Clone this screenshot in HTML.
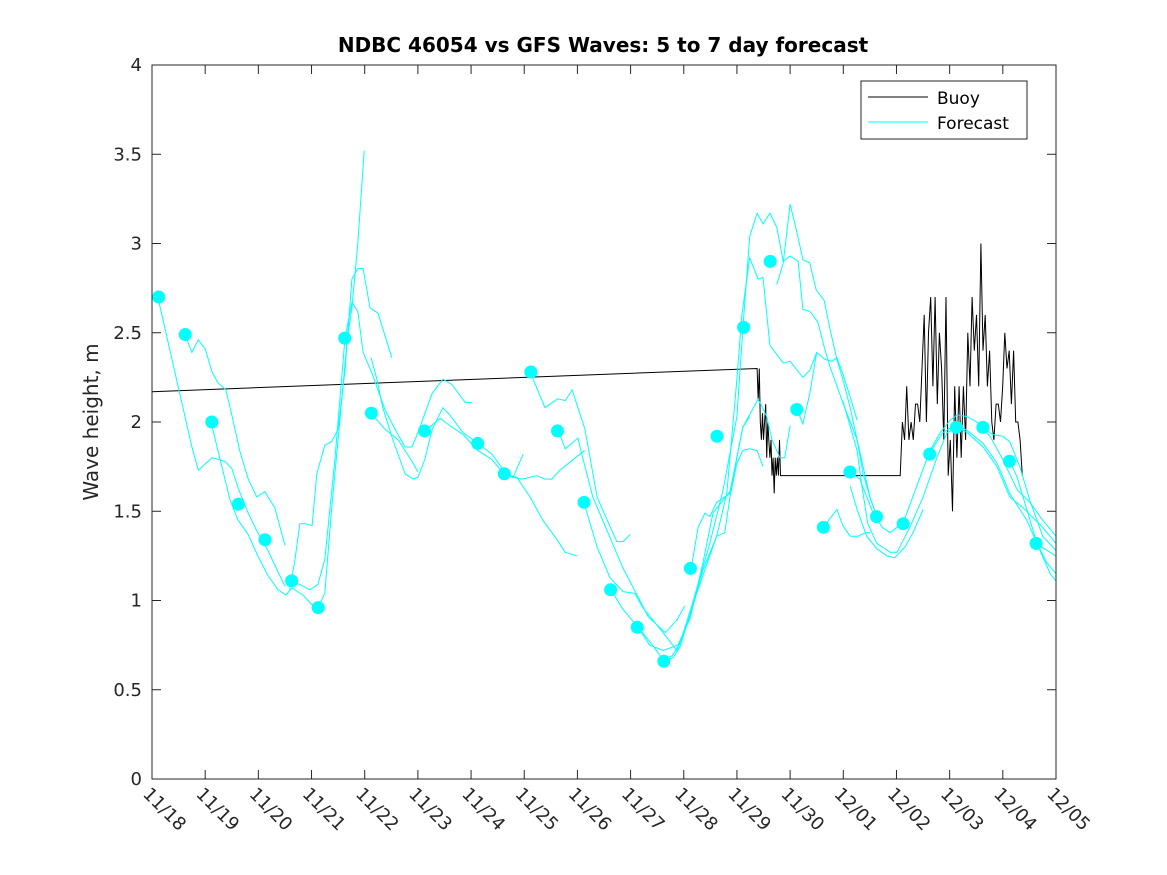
<!DOCTYPE html>
<html><head><meta charset="utf-8"><style>
html,body{margin:0;padding:0;background:#fff;}
svg{display:block;font-family:"DejaVu Sans","Liberation Sans",sans-serif;}
</style></head><body>
<svg id="chart" width="1167" height="875" viewBox="0 0 1167 875">
<rect width="1167" height="875" fill="#fff"/>
<text x="603" y="52" text-anchor="middle" font-size="20" font-weight="bold" fill="#000">NDBC 46054 vs GFS Waves: 5 to 7 day forecast</text>
<text transform="translate(98,422) rotate(-90)" text-anchor="middle" font-size="20" fill="#262626">Wave height, m</text>
<g id="grid"></g>
<g id="series"></g>
<g id="axes"></g>
<g>
<rect x="861" y="81" width="166" height="58" fill="#fff" stroke="#262626" stroke-width="1"/>
<line x1="868" y1="97" x2="928" y2="97" stroke="#000" stroke-width="1"/>
<text x="937" y="104" font-size="17" fill="#000">Buoy</text>
<line x1="868" y1="122" x2="928" y2="122" stroke="#00ffff" stroke-width="1"/>
<text x="937" y="129" font-size="17" fill="#000">Forecast</text>
</g>
</svg>
<script>
const xTickLabels = ["11/18","11/19","11/20","11/21","11/22","11/23","11/24","11/25","11/26","11/27","11/28","11/29","11/30","12/01","12/02","12/03","12/04","12/05"];
const yTicks = [0,0.5,1,1.5,2,2.5,3,3.5,4];
const yTickLabels = ["0","0.5","1","1.5","2","2.5","3","3.5","4"];
const dotStart = 0.125;
const dotStep = 0.5;
const dotValues = [2.70,2.49,2.00,1.54,1.34,1.11,0.96,2.47,2.05,null,1.95,null,1.88,1.71,2.28,1.95,1.55,1.06,0.85,0.66,1.18,1.92,2.53,2.90,2.07,1.41,1.72,1.47,1.43,1.82,1.97,1.97,1.78,1.32];
const buoyDaysA = [0,11.38,11.40,11.42,11.44,11.46,11.48,11.50,11.52,11.54,11.56,11.58,11.60,11.62,11.64,11.66,11.68,11.70,11.72,11.74,11.76,11.78,11.80,11.82,11.84,14.07];
const buoyValsA = [2.17,2.30,2.12,2.30,2.00,1.90,2.05,1.90,2.00,2.10,1.80,2.00,1.90,1.80,1.90,1.70,1.80,1.60,1.80,1.70,1.80,1.70,1.90,1.70,1.70,1.70];
const buoyStartB = 14.07;
const buoyStepB = 0.041;
const buoyValsB = [1.70,2.0,1.9,2.2,1.9,2.0,1.9,2.1,2.1,2.0,2.3,2.6,2.0,2.5,2.7,2.2,2.7,2.1,2.5,2.3,1.9,2.7,1.7,1.9,1.5,2.2,1.8,2.2,1.8,2.2,1.9,2.5,2.2,2.7,2.4,2.6,2.2,3.0,2.4,2.6,2.2,2.4,2.0,1.9,2.1,2.1,2.0,2.2,2.5,2.3,2.4,2.1,2.4,2.0,2.0,1.9,1.7];
const f1d=[0.11,0.75,0.87,1.13,1.37,1.50,1.62,1.81,1.97,2.18,2.37,2.50];
const f1v=[2.70,1.86,1.73,1.80,1.78,1.74,1.63,1.49,1.39,1.28,1.16,1.08];
const f2d=[0.62,0.75,0.87,1.00,1.13,1.24,1.39,1.50,1.65,1.81,1.97,2.12,2.31,2.50];
const f2v=[2.49,2.39,2.46,2.41,2.28,2.22,2.18,2.04,1.84,1.68,1.58,1.61,1.52,1.31];
const f3d=[1.11,1.28,1.47,1.62,1.81,1.99,2.18,2.37,2.52,2.63,2.84,3.03,3.12,3.25,3.38,3.54,3.67,3.76,3.87,3.99];
const f3v=[2.00,1.79,1.56,1.45,1.37,1.25,1.14,1.06,1.03,1.07,1.03,0.97,0.96,1.04,1.52,2.03,2.46,2.64,3.00,3.52];
const f4d=[2.59,2.69,2.78,2.88,3.01,3.10,3.25,3.38,3.50,3.63,3.76,3.87,3.97,4.10,4.25,4.51];
const f4v=[1.06,1.23,1.43,1.43,1.42,1.71,1.87,1.89,1.96,2.29,2.80,2.86,2.86,2.64,2.61,2.36];
const f5d=[2.61,2.78,2.97,3.12,3.25,3.44,3.63,3.76,3.87,3.97,4.14,4.38,4.57,4.76,4.89,5.00,5.27,5.47,5.64,5.89,6.02];
const f5v=[1.11,1.09,1.06,1.09,1.23,1.79,2.47,2.67,2.62,2.39,2.27,2.07,1.96,1.86,1.86,1.94,2.16,2.24,2.21,2.11,2.11];
const f6d=[4.12,4.23,4.34,4.53,4.76,4.91,5.00,5.13,5.27,5.47,5.60,5.85,6.13,6.39,6.64,6.79,6.98];
const f6v=[2.36,2.24,2.08,1.90,1.71,1.68,1.69,1.79,1.96,2.08,2.04,1.94,1.88,1.82,1.72,1.69,1.82];
const f7d=[4.12,4.38,4.63,4.91,5.00];
const f7v=[2.05,1.96,1.90,1.77,1.72];
const f8d=[5.13,5.42,5.60,5.85,6.13,6.39,6.62,6.86,7.11,7.35,7.62,7.77,7.99];
const f8v=[1.95,2.02,1.98,1.93,1.84,1.79,1.71,1.69,1.58,1.45,1.34,1.27,1.25];
const f9d=[6.60,6.77,6.96,7.24,7.39,7.52,7.67,8.09,8.14];
const f9v=[1.73,1.69,1.68,1.70,1.68,1.68,1.73,1.83,1.84];
const f10d=[7.11,7.39,7.63,7.77,7.90,8.01,8.14,8.37,8.56,8.74,8.86,8.99];
const f10v=[2.28,2.08,2.13,2.12,2.18,2.08,1.96,1.58,1.45,1.33,1.33,1.37];
const f11d=[7.63,7.77,8.01,8.10,8.29,8.56,8.86,9.14,9.33,9.65,9.87,10.02];
const f11v=[1.96,1.85,1.91,1.80,1.58,1.39,1.18,1.02,0.91,0.82,0.89,0.97];
const f12d=[8.12,8.37,8.61,8.86,9.08,9.23,9.42,9.61,9.87,10.12,10.36,10.62,10.77,10.87,11.00,11.11,11.24,11.38,11.49];
const f12v=[1.55,1.30,1.13,1.05,1.04,0.96,0.89,0.82,0.72,0.91,1.17,1.36,1.38,1.58,1.77,1.84,1.85,1.84,1.75];
const f13d=[8.63,8.86,9.14,9.36,9.61,9.89,10.12,10.36,10.55,10.87,11.11,11.40,11.56,11.66,11.81,11.90,12.00];
const f13v=[1.06,0.95,0.85,0.75,0.72,0.75,0.90,1.21,1.49,1.61,1.97,2.13,2.03,1.90,1.80,1.80,1.98];
const f14d=[9.14,9.36,9.61,9.78,9.93,10.17,10.49,10.74,11.00,11.11,11.24,11.38,11.49,11.62,11.75,11.87,12.00,12.15,12.24,12.37,12.52,12.64,12.75,12.99,13.26,13.50,13.63];
const f14v=[0.85,0.77,0.67,0.69,0.76,0.99,1.32,1.62,2.03,2.52,3.04,3.17,3.11,3.17,3.09,2.90,2.93,2.90,2.63,2.62,2.56,2.42,2.31,2.11,1.90,1.58,1.47];
const f15d=[9.63,9.80,9.93,10.21,10.44,10.62,10.81,11.00,11.09,11.24,11.40,11.49,11.62,11.87,12.00,12.24,12.37,12.50,12.66,12.79,12.88,12.99,13.13,13.26];
const f15v=[0.66,0.68,0.74,1.01,1.21,1.36,1.60,2.24,2.59,2.92,2.80,2.81,2.43,2.33,2.34,2.25,2.29,2.39,2.35,2.34,2.36,2.27,2.14,2.01];
const f16d=[10.14,10.27,10.40,10.49,10.62,10.87,11.11,11.24];
const f16v=[1.18,1.41,1.49,1.47,1.55,1.60,1.97,2.03];
const f17d=[11.75,11.87,12.00,12.13,12.24,12.37,12.49,12.64,12.75,12.88,12.99,13.13,13.26,13.37,13.50,13.63];
const f17v=[2.77,2.89,3.22,3.06,2.91,2.89,2.74,2.68,2.52,2.35,2.24,2.08,1.90,1.71,1.58,1.47];
const f18d=[12.13,12.24,12.37,12.50];
const f18v=[2.07,1.99,2.16,2.39];
const f19d=[12.62,12.88,12.99,13.13,13.28,13.41,13.50];
const f19v=[1.41,1.51,1.42,1.36,1.36,1.38,1.38];
const f20d=[13.13,13.31,13.56,13.73,13.88,14.01,14.12,14.38,14.63,14.82,15.01,15.14,15.33,15.51,15.76,16.00,16.27,16.51,16.75,17.0];
const f20v=[1.72,1.68,1.49,1.41,1.38,1.41,1.43,1.64,1.84,1.94,2.01,2.04,2.03,2.00,1.92,1.79,1.62,1.55,1.45,1.36];
const f21d=[13.13,13.26,13.44,13.63,13.82,13.97,14.16,14.31,14.50];
const f21v=[1.64,1.51,1.36,1.29,1.25,1.24,1.30,1.38,1.51];
const f22d=[12.99,13.26,13.35,13.46,13.63,13.88,14.01,14.25,14.50,14.76,14.95,15.14,15.33,15.63,15.89,16.13,16.38,16.75,17.0];
const f22v=[2.12,1.84,1.64,1.43,1.32,1.27,1.27,1.41,1.58,1.80,1.94,1.97,1.94,1.86,1.75,1.58,1.52,1.41,1.32];
const f23d=[14.63,14.87,15.14,15.38,15.63,15.89,16.13,16.45,16.64,16.89,17.0];
const f23v=[1.83,1.94,1.99,1.94,1.88,1.77,1.60,1.45,1.32,1.15,1.11];
const f24d=[15.63,15.81,16.00,16.13,16.32,16.51,16.75,17.0];
const f24v=[1.97,1.93,1.92,1.89,1.75,1.56,1.36,1.28];
const f25d=[16.13,16.27,16.45,16.64,16.83,17.0];
const f25v=[1.78,1.69,1.51,1.32,1.21,1.15];
const f26d=[16.62,17.0];
const f26v=[1.32,1.25];
const runs=[[f1d,f1v],[f2d,f2v],[f3d,f3v],[f4d,f4v],[f5d,f5v],[f6d,f6v],[f7d,f7v],[f8d,f8v],[f9d,f9v],[f10d,f10v],[f11d,f11v],[f12d,f12v],[f13d,f13v],[f14d,f14v],[f15d,f15v],[f16d,f16v],[f17d,f17v],[f18d,f18v],[f19d,f19v],[f20d,f20v],[f21d,f21v],[f22d,f22v],[f23d,f23v],[f24d,f24v],[f25d,f25v],[f26d,f26v]];

const L=152,R=1056,T=65,B=779,xMax=17,yMax=4;
const xs=d=>L+(R-L)*d/xMax;
const ys=v=>B-(B-T)*v/yMax;
const NS="http://www.w3.org/2000/svg";
function mk(tag,parent,attrs){const e=document.createElementNS(NS,tag);for(const k in attrs)e.setAttribute(k,attrs[k]);parent.appendChild(e);return e;}
const ser=document.getElementById('series');
const axes=document.getElementById('axes');

let bp=[];
buoyDaysA.forEach((d,i)=>bp.push(xs(d).toFixed(1)+','+ys(buoyValsA[i]).toFixed(1)));
buoyValsB.forEach((v,i)=>bp.push(xs(buoyStartB+i*buoyStepB).toFixed(1)+','+ys(v).toFixed(1)));
const buoy=mk('polyline',ser,{points:bp.join(' '),fill:'none',stroke:'#000','stroke-width':1});



runs.forEach((r,k)=>{
  const pts=r[0].map((d,i)=>xs(d).toFixed(1)+','+ys(r[1][i]).toFixed(1)).join(' ');
  const pl=mk('polyline',ser,{points:pts,fill:'none',stroke:'#00ffff','stroke-width':1});
  
  
});
dotValues.forEach((v,i)=>{
  if(v===null)return;
  const c=mk('circle',ser,{cx:xs(dotStart+i*dotStep),cy:ys(v),r:6.5,fill:'#00ffff'});
  
  
});

const box=mk('rect',axes,{x:L,y:T,width:R-L,height:B-T,fill:'none',stroke:'#262626','stroke-width':1});


yTicks.forEach((v,i)=>{
  const y=ys(v);
  const t1=mk('line',axes,{x1:L,y1:y,x2:L+9,y2:y,stroke:'#262626'});
  
  
  const t2=mk('line',axes,{x1:R-9,y1:y,x2:R,y2:y,stroke:'#262626'});
  
  
  const tx=mk('text',axes,{x:L-10,y:y+6,'text-anchor':'end','font-size':18,fill:'#262626'});
  tx.textContent=yTickLabels[i];
  
  
});
xTickLabels.forEach((lab,i)=>{
  const x=xs(i);
  const t1=mk('line',axes,{x1:x,y1:B,x2:x,y2:B-9,stroke:'#262626'});
  
  
  const t2=mk('line',axes,{x1:x,y1:T,x2:x,y2:T+9,stroke:'#262626'});
  
  
  const tx=mk('text',axes,{transform:`translate(${x-10},${B+16}) rotate(45)`,'text-anchor':'start','font-size':18,fill:'#262626'});
  tx.textContent=lab;
  
  
});
</script>
</body></html>
